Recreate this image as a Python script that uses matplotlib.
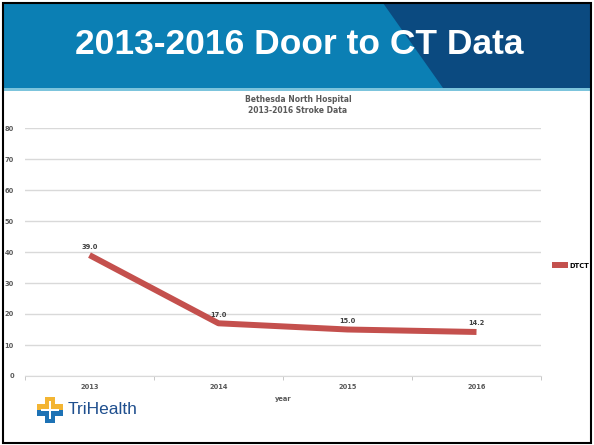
import numpy as np
import matplotlib
matplotlib.use('Agg')
import matplotlib.pyplot as plt
from matplotlib.patches import Rectangle, Polygon

# data
years = ['2013', '2014', '2015', '2016']
dtct = [39.0, 17.0, 15.0, 14.2]
y_ticks = [0, 10, 20, 30, 40, 50, 60, 70, 80]

W, H = 594, 445
fig = plt.figure(figsize=(W / 100, H / 100), dpi=100)

def fx(px):
    return px / W

def fy(py):
    return 1 - py / H

def box(x0, y0, w, h, color, z=1):
    # rectangle in pixel coords (top-left origin)
    fig.patches.append(Rectangle((fx(x0), fy(y0 + h)), fx(w), h / H, transform=fig.transFigure,
                                 facecolor=color, edgecolor='none', zorder=z))

small = dict(fontsize=4.8, fontweight='bold', color='#595959')

# slide header band
box(3, 3, 588, 85, '#0b7fb4', 0)
fig.patches.append(Polygon([(fx(383), fy(3)), (fx(591), fy(3)), (fx(591), fy(88)), (fx(443), fy(88))],
                           closed=True, transform=fig.transFigure,
                           facecolor='#0b4a80', edgecolor='none', zorder=0))
box(3, 88, 588, 3, '#7cc4dc', 0)
fig.text(fx(299), fy(45), '2013-2016 Door to CT Data', color='white', fontsize=25.5,
         fontweight='bold', family='Liberation Sans', ha='center', va='center')

# slide border
fig.patches.append(Rectangle((fx(3), fy(443)), fx(588), 440 / H, transform=fig.transFigure,
                             facecolor='none', edgecolor='black', linewidth=1.5, zorder=10))

# chart
ax = fig.add_axes([fx(25), fy(376), fx(516), (376 - 128) / H])
x = np.arange(len(years))
ax.plot(x, dtct, color='#c4504d', linewidth=4.3, solid_capstyle='butt', label='DTCT', zorder=3)
for xi, v in zip(x, dtct):
    ax.annotate(f'{v:.1f}', (xi, v), textcoords='offset points', xytext=(0, 4),
                ha='center', va='bottom', fontsize=4.8, fontweight='bold', color='#404040')

ax.set_ylim(0, 80)
ax.set_xlim(-0.5, 3.5)
ax.set_yticks(y_ticks)
ax.set_yticklabels([str(t) for t in y_ticks], **small)
ax.set_xticks(x)
ax.set_xticklabels(years, **small)
ax.set_xticks(np.arange(-0.5, 4, 1), minor=True)
ax.tick_params(axis='x', which='major', length=0, pad=6)
ax.tick_params(axis='x', which='minor', length=3, color='#bfbfbf')
ax.tick_params(axis='y', length=0, pad=8)
ax.grid(axis='y', color='#d9d9d9', linewidth=1)
ax.set_axisbelow(True)
for s in ['top', 'right', 'left']:
    ax.spines[s].set_visible(False)
ax.spines['bottom'].set_color('#d9d9d9')
ax.set_xlabel('year', labelpad=4, **small)
ax.set_title('Bethesda North Hospital\n2013-2016 Stroke Data', fontsize=5.5, fontweight='bold',
             color='#595959', pad=11, x=(298 - 25) / 516, linespacing=1.3)

ax.legend(loc='center left', bbox_to_anchor=(1.01, 0.445), frameon=False,
          handlelength=2.4, handletextpad=0.2, prop={'weight': 'bold', 'size': 4.8})

# logo: two-tone cross
box(37, 404, 26, 6, '#f3b533')
box(45, 397, 10, 13, '#f3b533')
box(37, 410, 26, 6, '#1d72b5')
box(45, 410, 10, 13, '#1d72b5')
box(49, 401, 2, 18, 'white', 2)
box(41, 409, 18, 2, 'white', 2)
fig.text(fx(68), fy(409), 'TriHealth', color='#1f4f8e', fontsize=12.5, family='Liberation Sans',
         ha='left', va='center')

fig.savefig('out.png', dpi=100)
